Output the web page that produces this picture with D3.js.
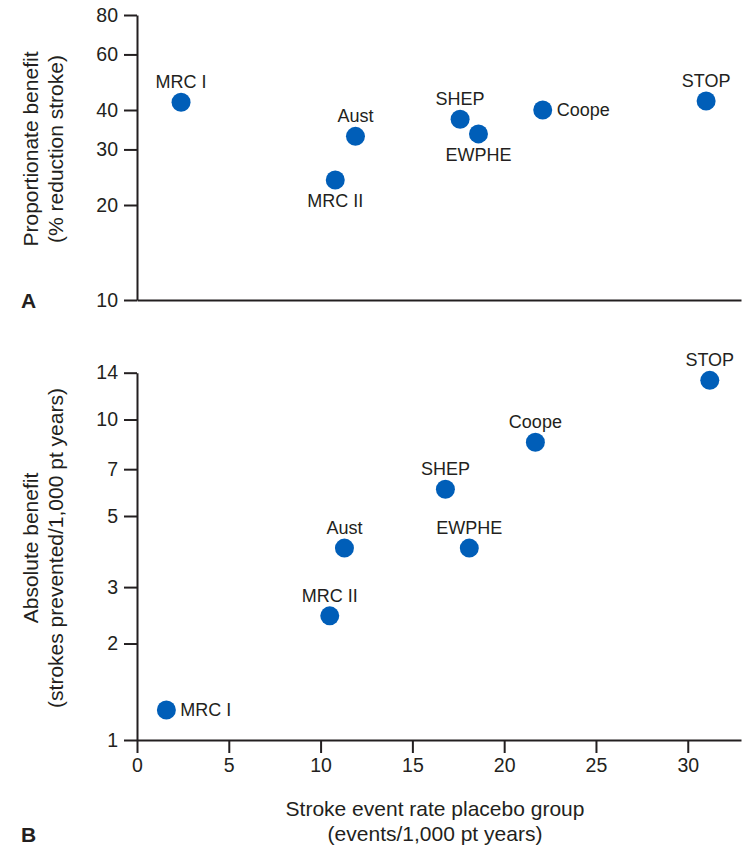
<!DOCTYPE html>
<html>
<head>
<meta charset="utf-8">
<script src="https://cdn.jsdelivr.net/npm/d3@7"></script>
<style>
  html, body { margin: 0; padding: 0; background: #fff; }
  svg { display: block; }
  text { font-family: "Liberation Sans", Arial, Helvetica, sans-serif; fill: #231f20; }
</style>
</head>
<body>
<svg id="chart" width="742" height="847"></svg>
<script>
// ---- Data ----
const trials      = ["MRC I", "Aust", "MRC II", "SHEP", "EWPHE", "Coope", "STOP"];
// Panel A: stroke event rate in placebo group (x) and proportionate benefit (% reduction)
const rateA       = [2.4, 11.9, 10.8, 17.6, 18.6, 22.1, 31.0];
const propBenefit = [42.3, 33.0, 24.0, 37.4, 33.6, 40.0, 42.7];
const labelSideA  = ["above", "above", "below", "above", "below", "right", "above"];
// Panel B: stroke event rate in placebo group (x) and absolute benefit (strokes prevented/1,000 pt years)
const rateB       = [1.6, 11.3, 10.5, 16.8, 18.1, 21.7, 31.2];
const absBenefit  = [1.24, 3.97, 2.44, 6.06, 3.97, 8.49, 13.25];
const labelSideB  = ["right", "above", "above", "above", "above", "above", "above"];
// Tick labels
const xTicks      = [0, 5, 10, 15, 20, 25, 30];
const yTicksA     = [10, 20, 30, 40, 60, 80];
const yTicksB     = [1, 2, 3, 5, 7, 10, 14];

// ---- Layout ----
const INK = "#231f20";
const DOT = "#005eb8";
const svg = d3.select("#chart");

const x = d3.scaleLinear().domain([0, 32.9]).range([137, 741]);
const yA = d3.scaleLog().domain([10, 80]).range([300, 15]);
const yB = d3.scaleLog().domain([1, 14]).range([740, 372.7]);

function styleAxis(g) {
  g.selectAll("path.domain").attr("stroke", INK).attr("stroke-width", 2);
  g.selectAll(".tick line").attr("stroke", INK).attr("stroke-width", 2);
  g.selectAll(".tick text").attr("fill", INK)
    .style("font-family", '"Liberation Sans", Arial, Helvetica, sans-serif')
    .style("font-size", "19.5px");
}

// Panel A axes
svg.append("g").attr("transform", `translate(0,${yA(10)})`)
  .call(d3.axisBottom(x).tickValues([]).tickSizeOuter(0)).call(styleAxis);
svg.append("g").attr("transform", `translate(${x(0)},0)`)
  .call(d3.axisLeft(yA).tickValues(yTicksA).tickSize(13).tickPadding(6)
        .tickSizeOuter(0).tickFormat(d3.format("d"))).call(styleAxis);

// Panel B axes
svg.append("g").attr("transform", `translate(0,${yB(1)})`)
  .call(d3.axisBottom(x).tickValues(xTicks).tickSize(13).tickPadding(5)
        .tickSizeOuter(0).tickFormat(d3.format("d"))).call(styleAxis);
svg.append("g").attr("transform", `translate(${x(0)},0)`)
  .call(d3.axisLeft(yB).tickValues(yTicksB).tickSize(13).tickPadding(6)
        .tickSizeOuter(0).tickFormat(d3.format("d"))).call(styleAxis);

// Points + labels
function drawPoints(xs, ys, sides, yScale) {
  const data = trials.map((t, i) => ({ name: t, x: xs[i], y: ys[i], side: sides[i] }));
  const g = svg.append("g");
  g.selectAll("circle").data(data).join("circle")
    .attr("cx", d => x(d.x)).attr("cy", d => yScale(d.y))
    .attr("r", 9.5).attr("fill", DOT);
  g.selectAll("text").data(data).join("text")
    .attr("x", d => d.side === "right" ? x(d.x) + 14 : x(d.x))
    .attr("y", d => d.side === "above" ? yScale(d.y) - 14
                   : d.side === "below" ? yScale(d.y) + 27
                   : yScale(d.y) + 6)
    .attr("text-anchor", d => d.side === "right" ? "start" : "middle")
    .style("font-size", "18px")
    .text(d => d.name);
}
drawPoints(rateA, propBenefit, labelSideA, yA);
drawPoints(rateB, absBenefit, labelSideB, yB);

// Axis titles
function yTitle(cy, lines) {
  const g = svg.append("g");
  lines.forEach((t, i) => {
    g.append("text")
      .attr("transform", `translate(${38 + i * 25},${cy}) rotate(-90)`)
      .attr("text-anchor", "middle").style("font-size", "21px").text(t);
  });
}
yTitle(149, ["Proportionate benefit", "(% reduction stroke)"]);
yTitle(548, ["Absolute benefit", "(strokes prevented/1,000 pt years)"]);

["Stroke event rate placebo group", "(events/1,000 pt years)"].forEach((t, i) => {
  svg.append("text").attr("x", 435).attr("y", 816 + i * 25)
    .attr("text-anchor", "middle").style("font-size", "21px").text(t);
});

// Panel letters
svg.append("text").attr("x", 21).attr("y", 308)
  .style("font-size", "21px").style("font-weight", "bold").text("A");
svg.append("text").attr("x", 21).attr("y", 842)
  .style("font-size", "21px").style("font-weight", "bold").text("B");
</script>
</body>
</html>
